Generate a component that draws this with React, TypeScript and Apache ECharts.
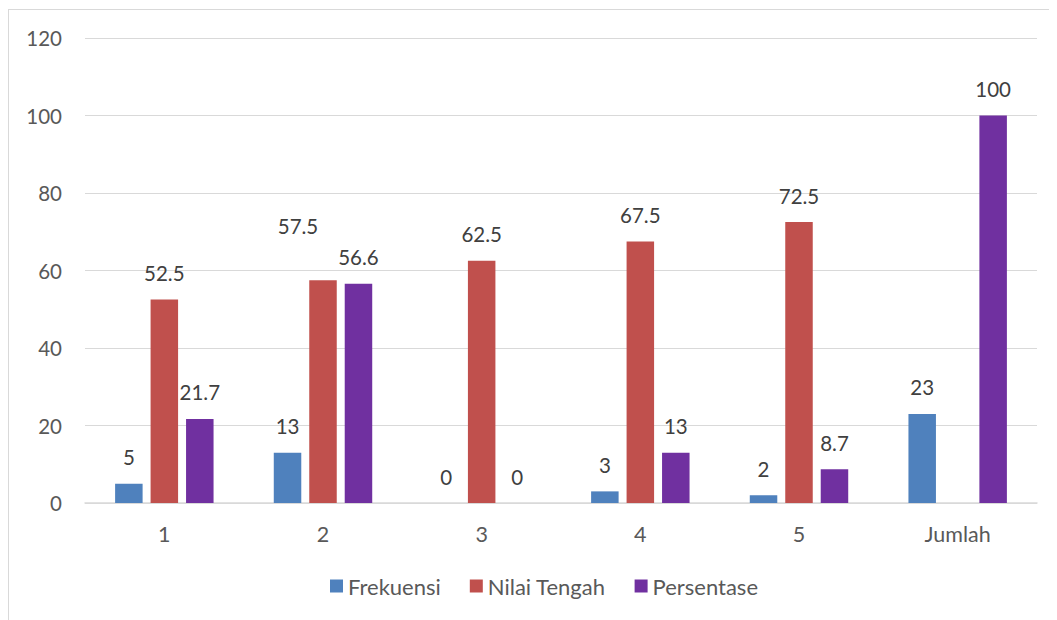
import React, { useEffect, useRef } from "react";
import * as echarts from "echarts";

const categories = ["1", "2", "3", "4", "5", "Jumlah"];
const frekuensi = [5, 13, 0, 3, 2, 23];
const nilaiTengah: (number | null)[] = [52.5, 57.5, 62.5, 67.5, 72.5, null];
const persentase = [21.7, 56.6, 0, 13, 8.7, 100];
const yTicks = { min: 0, max: 120, interval: 20 };

const FONT = "Lato";
const LABEL_COLOR = "#404040";
const AXIS_COLOR = "#595959";

export default function App() {
  const ref = useRef<HTMLDivElement>(null);
  useEffect(() => {
    if (!ref.current) return;
    const chart = echarts.init(ref.current, undefined, { renderer: "svg" });
    const label = {
      show: true,
      position: "top" as const,
      distance: 16,
      color: LABEL_COLOR,
      fontFamily: FONT,
      fontSize: 20.5,
    };
    const nilaiData = nilaiTengah.map((v, i) =>
      v === null
        ? "-"
        : i === 1
        ? { value: v, label: { offset: [-25, -28] } }
        : v
    );
    chart.setOption({
      animation: false,
      textStyle: { fontFamily: FONT },
      graphic: [
        {
          type: "line",
          shape: { x1: 0.5, y1: 1, x2: 0.5, y2: 612 },
          style: { stroke: "#d9d9d9", lineWidth: 1 },
        },
        {
          type: "line",
          shape: { x1: 0, y1: 1.5, x2: 1049, y2: 1.5 },
          style: { stroke: "#d9d9d9", lineWidth: 1 },
        },
      ],
      grid: { left: 77, right: 20, top: 30, bottom: 117 },
      legend: {
        left: 317,
        top: 562,
        itemWidth: 13,
        itemHeight: 13,
        itemGap: 29,
        icon: "rect",
        textStyle: { color: AXIS_COLOR, fontSize: 22, fontFamily: FONT },
        data: ["Frekuensi", "Nilai Tengah", "Persentase"],
      },
      xAxis: {
        type: "category",
        data: categories,
        axisTick: { show: false },
        axisLine: { lineStyle: { color: "#d9d9d9", width: 1.5 } },
        axisLabel: { color: AXIS_COLOR, fontSize: 21.5, fontFamily: FONT, margin: 20 },
      },
      yAxis: {
        type: "value",
        min: yTicks.min,
        max: yTicks.max,
        interval: yTicks.interval,
        axisLine: { show: false },
        axisTick: { show: false },
        splitLine: { lineStyle: { color: "#d9d9d9", width: 1 } },
        axisLabel: { color: AXIS_COLOR, fontSize: 20.5, fontFamily: FONT, margin: 23 },
      },
      series: [
        {
          name: "Frekuensi",
          type: "bar",
          data: frekuensi,
          barWidth: 27.5,
          barGap: "29%",
          itemStyle: { color: "#4F81BD" },
          label,
        },
        {
          name: "Nilai Tengah",
          type: "bar",
          data: nilaiData,
          barWidth: 27.5,
          barGap: "29%",
          itemStyle: { color: "#C0504D" },
          label,
        },
        {
          name: "Persentase",
          type: "bar",
          data: persentase,
          barWidth: 27.5,
          barGap: "29%",
          itemStyle: { color: "#7030A0" },
          label,
        },
      ],
    });
    return () => chart.dispose();
  }, []);
  return <div ref={ref} style={{ width: 1049, height: 612 }} />;
}
